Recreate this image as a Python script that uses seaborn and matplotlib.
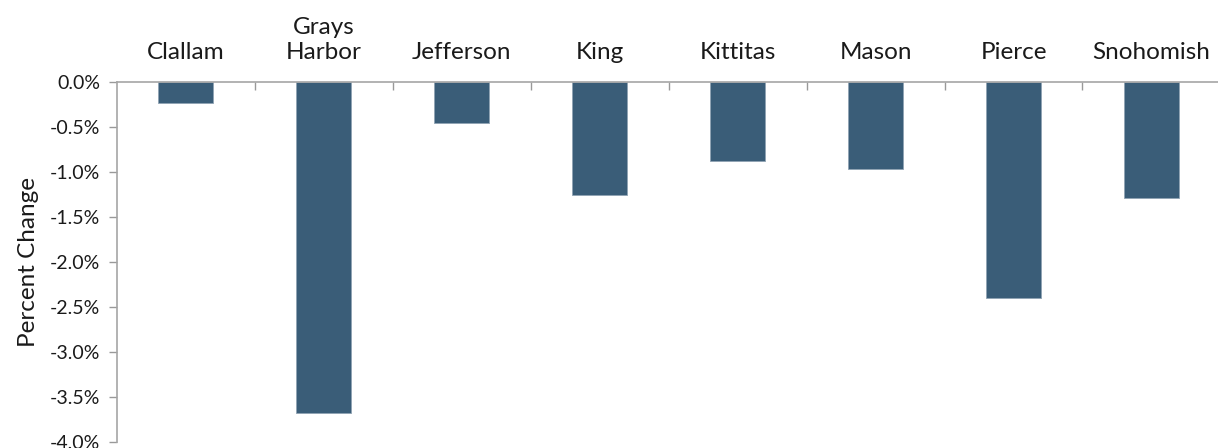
import matplotlib
matplotlib.use("Agg")
import matplotlib.pyplot as plt
import seaborn as sns
import pandas as pd
import numpy as np
from matplotlib.ticker import FuncFormatter, MultipleLocator, FixedLocator

counties = ["Clallam", "Grays\nHarbor", "Jefferson", "King", "Kittitas", "Mason", "Pierce", "Snohomish"]
pct_change = [-0.23, -3.68, -0.46, -1.26, -0.88, -0.97, -2.40, -1.29]

sns.set_theme(style="white")
plt.rcParams["font.family"] = ["Lato", "DejaVu Sans"]

df = pd.DataFrame({"County": counties, "Change": pct_change})

fig = plt.figure(figsize=(12.18, 4.48), dpi=100)
ax = fig.add_axes([0.096, 0.0134, 0.906, 0.8036])

sns.barplot(data=df, x="County", y="Change", color="#3a5d78", saturation=1,
            width=0.4, ax=ax, edgecolor="#8fa3b3", linewidth=0.6)

ax.set_ylim(-4.0, 0.0)
ax.set_xlim(-0.5, len(counties) - 0.5)
ax.yaxis.set_major_locator(MultipleLocator(0.5))
ax.yaxis.set_major_formatter(FuncFormatter(lambda v, p: f"{v:.1f}%"))

# category labels along the zero line at the top
ax.xaxis.tick_top()
ax.xaxis.set_label_position("top")
ax.set_xlabel("")
ax.tick_params(axis="x", which="major", length=0, pad=14, labelsize=17.5, colors="#1a1a1a")
ax.xaxis.set_minor_locator(FixedLocator(np.arange(0.5, len(counties) - 0.5, 1.0)))
ax.tick_params(axis="x", which="minor", direction="in", length=6, width=1, color="#999999", top=True, bottom=False)
ax.tick_params(axis="y", which="major", direction="out", length=6, width=1, color="#999999",
               labelsize=14, labelcolor="#1a1a1a", left=True, pad=6)

ax.set_ylabel("Percent Change", fontsize=17.5, color="#1a1a1a", labelpad=8)

for side in ["right", "bottom"]:
    ax.spines[side].set_visible(False)
for side in ["left", "top"]:
    ax.spines[side].set_color("#a6a6a6")
    ax.spines[side].set_linewidth(1.2)

fig.savefig("out.png", dpi=100, facecolor="white")
